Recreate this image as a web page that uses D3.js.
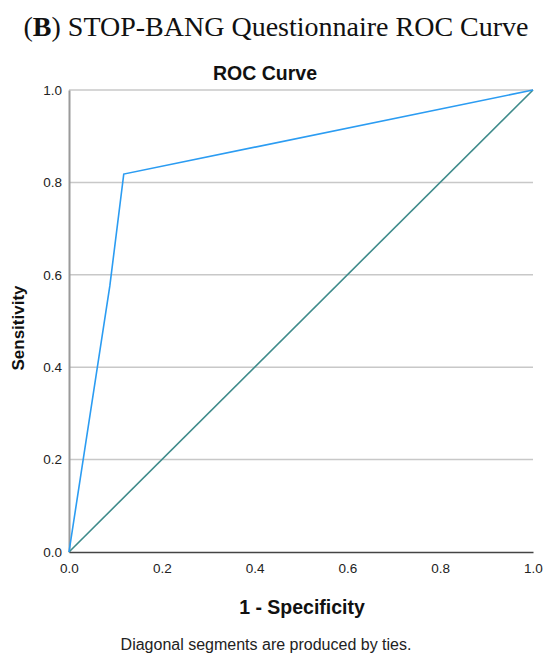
<!doctype html>
<html>
<head>
  <meta charset="utf-8">
  <title>STOP-BANG Questionnaire ROC Curve</title>
  <script src="https://cdnjs.cloudflare.com/ajax/libs/d3/7.8.5/d3.min.js"></script>
  <style>
  body { margin: 0; background: #fff; }
  .grid line { stroke: #c8c8c8; stroke-width: 1.5px; }
  .tick text { font-family: "Liberation Sans", Arial, sans-serif; font-size: 13.5px; fill: #222; }
  .roc { stroke: #2b9cf2; stroke-width: 1.6px; fill: none; }
  .ref { stroke: #3f8b8b; stroke-width: 1.6px; fill: none; }
  </style>
</head>
<body>
  <script>
  // ROC curve points
  var fpr = [0, 0.088, 0.118, 1],
    tpr = [0, 0.576, 0.818, 1],
    refX = [0, 1],
    refY = [0, 1],
    ticks = [0, 0.2, 0.4, 0.6, 0.8, 1.0];

  var W = 550, H = 664,
    margin = {top: 90, right: 17, bottom: 112, left: 69},
    width = W - margin.left - margin.right,
    height = H - margin.top - margin.bottom;

  var svg = d3.select("body").append("svg")
      .attr("width", W)
      .attr("height", H);

  svg.append("text")
    .attr("x", 276).attr("y", 36)
    .attr("text-anchor", "middle")
    .style("font-family", "'Liberation Serif', serif")
    .style("font-size", "28px")
    .style("fill", "#111")
    .html("(<tspan font-weight='bold'>B</tspan>) STOP-BANG Questionnaire ROC Curve");

  var g = svg.append("g")
      .attr("transform", "translate(" + margin.left + "," + margin.top + ")");

  var x = d3.scaleLinear().domain([0, 1]).range([0, width]);
  var y = d3.scaleLinear().domain([0, 1]).range([height, 0]);

  // horizontal gridlines
  g.append("g")
    .attr("class", "grid")
    .selectAll("line")
    .data(ticks.slice(1))
    .enter().append("line")
      .attr("x1", 0).attr("x2", width)
      .attr("y1", function(d) { return y(d); })
      .attr("y2", function(d) { return y(d); });

  var yAxis = g.append("g")
    .call(d3.axisLeft(y).tickValues(ticks).tickFormat(d3.format(".1f")).tickSize(0).tickPadding(7));
  yAxis.select(".domain").attr("stroke", "#9a9a9a").attr("stroke-width", 2);

  var xAxis = g.append("g")
    .attr("transform", "translate(0," + height + ")")
    .call(d3.axisBottom(x).tickValues(ticks).tickFormat(d3.format(".1f")).tickSize(0).tickPadding(11));
  xAxis.select(".domain").attr("stroke", "#444").attr("stroke-width", 1.5);

  var line = d3.line()
      .x(function(d) { return x(d[0]); })
      .y(function(d) { return y(d[1]); });

  g.append("path")
    .datum(d3.zip(refX, refY))
    .attr("class", "ref")
    .attr("d", line);

  g.append("path")
    .datum(d3.zip(fpr, tpr))
    .attr("class", "roc")
    .attr("d", line);

  svg.append("text")
    .attr("x", 265).attr("y", 80)
    .attr("text-anchor", "middle")
    .style("font-family", "'Liberation Sans', Arial, sans-serif")
    .style("font-weight", "bold")
    .style("font-size", "19.5px")
    .style("fill", "#111")
    .text("ROC Curve");

  svg.append("text")
    .attr("x", 302).attr("y", 614)
    .attr("text-anchor", "middle")
    .style("font-family", "'Liberation Sans', Arial, sans-serif")
    .style("font-weight", "bold")
    .style("font-size", "19.5px")
    .style("fill", "#111")
    .text("1 - Specificity");

  svg.append("text")
    .attr("transform", "translate(24,328) rotate(-90)")
    .attr("text-anchor", "middle")
    .style("font-family", "'Liberation Sans', Arial, sans-serif")
    .style("font-weight", "bold")
    .style("font-size", "17px")
    .style("fill", "#111")
    .text("Sensitivity");

  svg.append("text")
    .attr("x", 266).attr("y", 650)
    .attr("text-anchor", "middle")
    .style("font-family", "'Liberation Sans', Arial, sans-serif")
    .style("font-size", "16px")
    .style("fill", "#222")
    .text("Diagonal segments are produced by ties.");
  </script>
</body>
</html>
